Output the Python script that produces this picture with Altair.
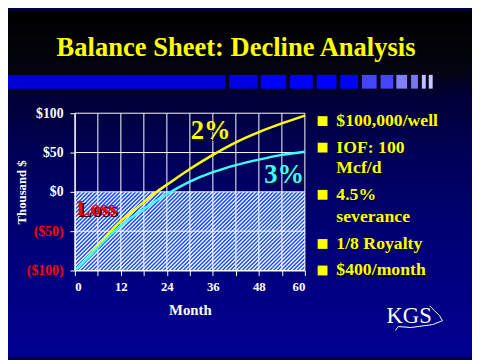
import altair as alt
import pandas as pd
import numpy as np

# ---------------- data ----------------
months = [0, 3, 6, 9, 12, 15, 18, 21, 24, 30, 36, 42, 48, 54, 60]
decline_2pct = [-100, -85, -69, -52, -37, -25, -13, -1, 9, 29, 47, 63, 76, 87, 97]
decline_3pct = [-100, -86, -71, -56, -43, -32, -22, -12, -3, 13, 25, 34, 41, 47, 51]
series_names = ["2%", "3%"]
x_ticks = [0, 6, 12, 18, 24, 30, 36, 42, 48, 54, 60]
y_ticks = [-100, -50, 0, 50, 100]
title_text = "Balance Sheet: Decline Analysis"
bullet_lines = ["$100,000/well", "IOF: 100", "Mcf/d", "4.5%", "severance", "1/8 Royalty", "$400/month"]
bullet_marks = [True, True, False, True, False, True, True]

# ---------------- layout / style ----------------
W, H = 234, 160
FONT = "Liberation Serif"
YEL = "#ffff00"
CYAN = "#40ffff"

curves = pd.DataFrame({
    "month": months * 2,
    "value": decline_2pct + decline_3pct,
    "series": [series_names[0]] * len(months) + [series_names[1]] * len(months),
})

xs = alt.Scale(domain=[0, 60], nice=False, zero=False)
ys = alt.Scale(domain=[-100, 100], nice=False, zero=False)

one = alt.Data(values=[{"a": 1}])

# background gradient (whole canvas)
bg = alt.Chart(one).mark_rect(
    color=alt.Gradient(
        gradient="linear", x1=0, x2=0, y1=0, y2=1,
        stops=[
            alt.GradientStop(color="#000000", offset=0),
            alt.GradientStop(color="#04040f", offset=0.17),
            alt.GradientStop(color="#000035", offset=0.24),
            alt.GradientStop(color="#000055", offset=0.40),
            alt.GradientStop(color="#00006a", offset=0.55),
            alt.GradientStop(color="#000078", offset=0.69),
            alt.GradientStop(color="#000085", offset=0.83),
            alt.GradientStop(color="#000090", offset=1.0),
        ],
    )
).encode(x=alt.value(-68), x2=alt.value(404), y=alt.value(-104), y2=alt.value(248))

# decorative strip under title
strip = pd.DataFrame({
    "x0": [-68, 157, 189, 219, 246, 270, 292, 311, 327, 342, 353, 360],
    "x1": [153, 186, 215, 242, 266, 288, 307, 324, 338, 349, 357, 364],
    "c": ["#0000d6", "#0000e0", "#0000ff", "#0000ff", "#0000ff", "#0000ff",
          "#4444ff", "#4444ff", "#8080ff", "#7777f0", "#c0c0ff", "#c8c8ff"],
})
strip_ch = alt.Chart(strip).mark_rect().encode(
    x=alt.X("x0:Q", scale=None), x2="x1:Q",
    y=alt.value(-39), y2=alt.value(-25),
    color=alt.Color("c:N", scale=None),
)

# loss region fill + hatch
loss_box = pd.DataFrame({"x0": [0], "x1": [60], "y0": [0], "y1": [-100]})
loss = alt.Chart(loss_box).mark_rect(color="#1a4cff").encode(
    x=alt.X("x0:Q", scale=xs, axis=None), x2="x1:Q",
    y=alt.Y("y0:Q", scale=ys, axis=None), y2="y1:Q",
)
k = np.arange(-84, W + 4, 4)
hatch = pd.DataFrame({"a": k, "b": k + 80, "ya": [H] * len(k), "yb": [H / 2] * len(k)})
hatch_ch = alt.Chart(hatch).mark_rule(color="white", strokeWidth=1.3, clip=True).encode(
    x=alt.X("a:Q", scale=None), x2="b:Q", y=alt.Y("ya:Q", scale=None), y2="yb:Q"
)

# grid
vgrid = alt.Chart(pd.DataFrame({"m": x_ticks})).mark_rule(color="white", strokeWidth=1).encode(
    x=alt.X("m:Q", scale=xs, axis=None)
)
hgrid = alt.Chart(pd.DataFrame({"v": y_ticks})).mark_rule(color="white", strokeWidth=1).encode(
    y=alt.Y("v:Q", scale=ys, axis=None)
)

# curves with axes
lines = alt.Chart(curves).mark_line(strokeWidth=2.5, interpolate="monotone").encode(
    x=alt.X("month:Q", scale=xs, axis=alt.Axis(
        values=x_ticks, labelExpr="datum.value % 12 == 0 ? datum.label : ''",
        labelOverlap=False,
        grid=False, zindex=1, domainColor="white", tickColor="white", tickSize=5,
        labelColor="white", labelFont=FONT, labelFontWeight="bold", labelFontSize=13,
        labelPadding=5, title="Month", titleColor="white", titleFont=FONT,
        titleFontWeight="bold", titleFontSize=15, titleX=117, titleY=45,
        titleBaseline="alphabetic", titleAlign="center")),
    y=alt.Y("value:Q", scale=ys, axis=alt.Axis(
        values=y_ticks,
        labelExpr="datum.value < 0 ? '($' + abs(datum.value) + ')' : '$' + datum.value",
        labelColor=alt.expr("datum.value < 0 ? '#ff0000' : '#ffffff'"),
        labelOverlap=False,
        grid=False, zindex=1, domainColor="white", tickColor="white", tickSize=5,
        labelFont=FONT, labelFontWeight="bold", labelFontSize=14, labelPadding=7,
        title="Thousand $", titleColor="white", titleFont=FONT, titleFontWeight="bold",
        titleFontSize=13, titleAngle=270, titleX=-54, titleY=80,
        titleAlign="center", titleBaseline="middle")),
    color=alt.Color("series:N", scale=alt.Scale(domain=series_names, range=[YEL, CYAN]), legend=None),
)

# annotations
ann = pd.DataFrame({
    "t": ["2%", "3%"], "x": [35.4, 54.6], "y": [67, 11], "c": [YEL, CYAN]
})
ann_sh = alt.Chart(ann).mark_text(font=FONT, fontWeight="bold", fontSize=27, dx=2, dy=2,
                                  color="#101030", baseline="alphabetic").encode(
    x=alt.X("x:Q", scale=xs, axis=None), y=alt.Y("y:Q", scale=ys, axis=None), text="t:N")
ann_tx = alt.Chart(ann).mark_text(font=FONT, fontWeight="bold", fontSize=27,
                                  baseline="alphabetic").encode(
    x=alt.X("x:Q", scale=xs, axis=None), y=alt.Y("y:Q", scale=ys, axis=None), text="t:N",
    color=alt.Color("c:N", scale=None))
loss_df = pd.DataFrame({"t": ["Loss"], "x": [0.5], "y": [-29]})
loss_sh = alt.Chart(loss_df).mark_text(font=FONT, fontWeight="bold", fontSize=21, dx=2, dy=2,
                                       color="#300000", align="left", baseline="alphabetic").encode(
    x=alt.X("x:Q", scale=xs, axis=None), y=alt.Y("y:Q", scale=ys, axis=None), text="t:N")
loss_tx = alt.Chart(loss_df).mark_text(font=FONT, fontWeight="bold", fontSize=21,
                                       color="#ff0000", align="left", baseline="alphabetic").encode(
    x=alt.X("x:Q", scale=xs, axis=None), y=alt.Y("y:Q", scale=ys, axis=None), text="t:N")

# title
title_sh = alt.Chart(one).mark_text(text=title_text, font=FONT, fontWeight="bold", fontSize=27,
                                    color="#000000", baseline="alphabetic", align="center").encode(
    x=alt.value(165), y=alt.value(-57))
title_tx = alt.Chart(one).mark_text(text=title_text, font=FONT, fontWeight="bold", fontSize=27,
                                    color=YEL, baseline="alphabetic", align="center").encode(
    x=alt.value(164), y=alt.value(-58))

# bullet list
bl = pd.DataFrame({
    "t": bullet_lines,
    "b": bullet_marks,
    "py": [13, 40, 61, 88, 111, 138, 165],
})
bl_sh = alt.Chart(bl).mark_text(font=FONT, fontWeight="bold", fontSize=18, color="#000020",
                                align="left", baseline="alphabetic", dx=1.5, dy=1.5).encode(
    x=alt.value(266), y=alt.Y("py:Q", scale=None), text="t:N")
bl_tx = alt.Chart(bl).mark_text(font=FONT, fontWeight="bold", fontSize=18, color=YEL,
                                align="left", baseline="alphabetic").encode(
    x=alt.value(266), y=alt.Y("py:Q", scale=None), text="t:N")
bl_sq = alt.Chart(bl).transform_filter("datum.b").transform_calculate(
    top="datum.py - 10").mark_rect(color=YEL).encode(
    x=alt.value(247), x2=alt.value(257), y=alt.Y("top:Q", scale=None), y2="py:Q")

# KGS logo
kgs = alt.Chart(one).mark_text(text="KGS", font=FONT, fontSize=23, color="white",
                               baseline="alphabetic", align="center").encode(
    x=alt.value(340), y=alt.value(213))
ky = pd.DataFrame({
    "o": list(range(8)),
    "px": [326, 329, 342, 364, 374, 371, 366, 361],
    "py": [221, 217, 218, 215, 211, 206, 201, 196],
})
ky_ch = alt.Chart(ky).mark_line(color="white", strokeWidth=1).encode(
    x=alt.X("px:Q", scale=None), y=alt.Y("py:Q", scale=None), order="o:Q")

chart = alt.layer(
    bg, strip_ch, loss, hatch_ch, vgrid, hgrid, lines,
    ann_sh, ann_tx, loss_sh, loss_tx, title_sh, title_tx,
    bl_sh, bl_sq, bl_tx, ky_ch, kgs,
).resolve_axis(x="independent", y="independent").properties(
    width=W, height=H,
    autosize=alt.AutoSizeParams(type="none"),
    padding={"left": 68, "top": 104, "right": 170, "bottom": 88},
    background="#000040",
).configure_view(stroke=None)

chart.save("out.html", embed_options={"renderer": "svg", "actions": False})
